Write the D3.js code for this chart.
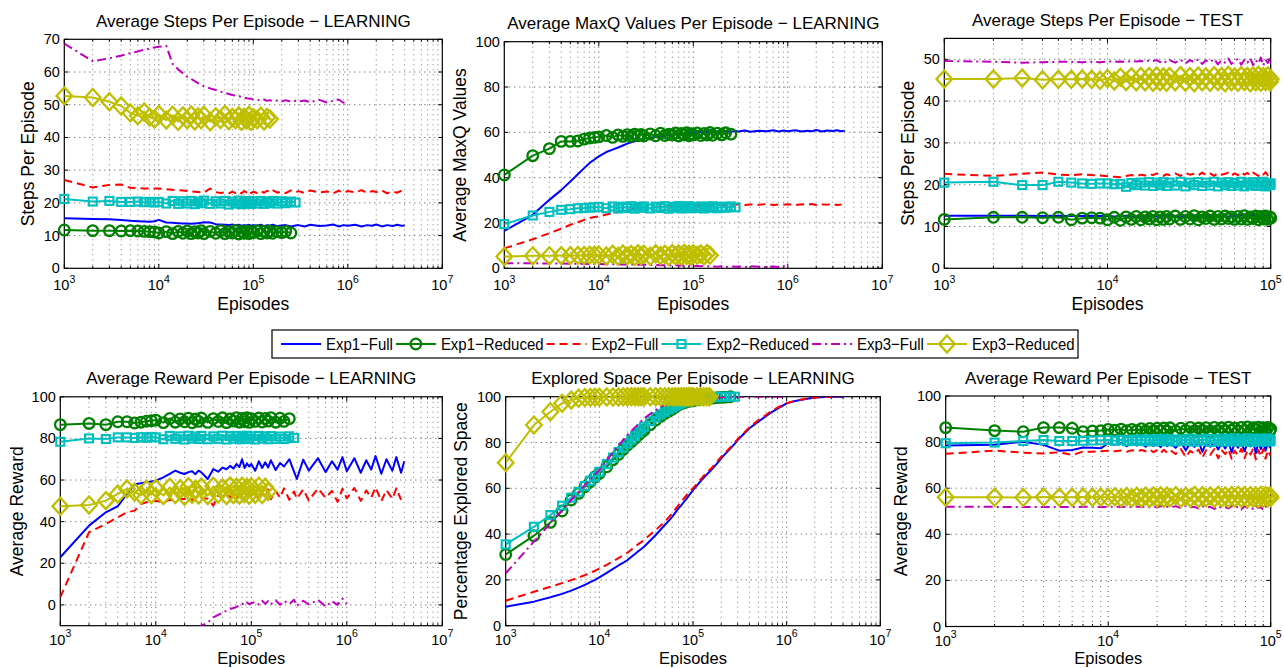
<!DOCTYPE html>
<html><head><meta charset="utf-8">
<script src="https://cdn.jsdelivr.net/npm/d3@7"></script>
<style>body{margin:0;background:#fff;} svg{display:block;font-family:"Liberation Sans",Arial,Helvetica,sans-serif;}</style>
</head><body>
<script>
// ---------------- DATA ----------------
const learnEpisodes = [1000,2000,3000,4000,5000,6000,7000,8000,9000,
 10000,12000,14000,16000,18000,20000,22000,24000,26000,28000,30000,
 35000,40000,45000,50000,55000,60000,65000,70000,75000,80000,85000,90000,95000,100000,
 110000,120000,130000,140000,150000,
 160000,180000,200000,220000,250000,280000,
 300000,350000,400000,500000,600000,700000,800000,900000,1000000,
 1200000,1400000,1600000,1800000,2000000,2300000,2600000,3000000,3300000,3700000,4000000];
const testEpisodes = [1000,2000,3000,4000,5000,6000,7000,8000,9000,
 10000,11000,12000,13000,14000,15000,16000,17000,18000,19000,20000,21000,22000,23000,24000,
 26000,28000,30000,32000,34000,36000,38000,40000,
 42500,45000,47500,50000,52500,55000,57500,60000,
 63000,66000,69000,72000,75000,78000,81000,84000,87000,90000,93000,96000,99000,100000];
const learnXTicks = [1e3,1e4,1e5,1e6,1e7];
const testXTicks = [1e3,1e4,1e5];
const stepsLearnYTicks = [0,10,20,30,40,50,60,70];
const stepsTestYTicks = [0,10,20,30,40,50];
const percentYTicks = [0,20,40,60,80,100];
const seriesNames = ["Exp1−Full","Exp1−Reduced","Exp2−Full","Exp2−Reduced","Exp3−Full","Exp3−Reduced"];

// Average Steps Per Episode - LEARNING
const stepsLearnExp1Full = [15.3,15.1,15.0,14.8,14.5,14.4,14.3,14.2,14.4,
 14.8,14.0,13.9,13.8,13.7,13.7,13.6,13.7,13.8,13.9,14.1,
 14.0,13.5,13.4,13.3,13.2,13.4,13.1,13.3,13.0,13.2,13.1,13.3,13.0,13.2,
 13.0,13.3,12.9,13.2,13.0,
 13.3,12.9,13.1,13.2,12.8,13.1,
 13.2,12.8,13.3,12.9,13.1,13.4,12.8,13.2,13.0,
 13.3,12.8,13.2,13.0,13.4,12.8,13.2,12.9,13.3,13.0,13.1];
const stepsLearnExp1Red = [11.7,11.5,11.5,11.4,11.5,11.4,11.3,11.2,11.1,
 10.8,11.2,10.6,11.3,10.7,11.4,10.6,11.2,10.8,11.5,10.6,
 11.3,10.7,11.5,10.6,11.2,10.8,11.6,10.5,11.3,10.7,11.4,10.6,11.2,10.9,
 11.5,10.6,11.3,10.8,11.4,
 10.7,11.2,10.9,11.3,10.8];
const stepsLearnExp2Full = [27.0,24.7,25.5,25.6,24.6,24.5,24.4,24.4,24.4,
 24.4,24.2,24.0,23.9,23.8,23.6,23.5,23.4,23.3,23.2,23.1,
 24.4,23.3,23.0,23.2,22.9,23.4,23.0,23.5,22.9,23.6,23.2,23.8,23.0,23.4,
 23.0,23.6,23.1,23.7,23.2,
 23.9,23.1,23.5,23.0,23.8,23.2,
 23.6,23.0,23.8,23.2,23.5,22.9,23.7,23.1,23.6,
 23.2,23.9,23.0,23.6,23.3,23.8,22.9,23.5,23.1,23.7];
const stepsLearnExp2Red = [21.2,20.4,20.6,20.3,20.3,20.4,20.2,20.3,20.1,
 20.3,19.8,20.6,19.7,20.5,19.8,20.6,19.6,20.4,19.9,20.7,
 19.7,20.5,19.8,20.6,19.5,20.4,19.8,20.7,19.6,20.3,19.9,20.6,19.7,20.5,
 19.8,20.6,19.7,20.4,19.9,
 20.6,19.8,20.5,19.9,20.4,20.1];
const stepsLearnExp3Full = [68.7,63.3,64.2,65.0,65.8,66.3,66.8,67.2,67.5,
 67.7,68.0,62.5,60.8,59.6,58.5,57.9,57.2,56.6,56.1,55.6,
 55.0,54.5,54.0,53.6,53.3,53.0,52.8,52.6,52.4,52.2,52.0,51.9,51.8,51.6,
 51.5,51.3,51.6,51.2,51.4,
 51.1,51.3,51.0,51.4,50.9,51.2,
 51.0,51.3,50.8,51.5,50.7,51.2,51.6,50.6,51.1];
const stepsLearnExp3Red = [52.7,52.2,50.9,49.6,47.5,46.6,47.8,46.2,45.6,
 47.0,45.3,46.8,44.9,46.6,45.4,46.9,45.0,46.3,45.4,46.8,
 44.8,46.3,45.5,47.0,45.1,46.1,45.4,46.6,44.9,46.2,45.3,46.8,44.9,46.0,
 45.4,46.5,45.0,46.1,45.6];

// Average MaxQ Values Per Episode - LEARNING
const maxqExp1Full = [16.5,23.6,30.2,34.5,38.3,41.5,44.2,46.5,48.0,
 49.4,51.3,52.4,53.3,54.2,55.0,55.6,56.1,56.5,56.9,57.2,
 57.6,58.0,58.3,58.6,58.8,59.0,59.2,59.3,59.4,59.5,59.6,59.7,59.8,59.9,
 60.0,60.1,60.0,60.2,60.1,
 60.3,60.2,60.4,60.5,60.3,60.6,
 60.4,60.8,60.3,60.7,60.5,60.9,60.4,60.8,60.5,
 60.9,60.4,60.7,60.5,61.0,60.4,60.8,60.6,60.9,60.5,60.7];
const maxqExp1Red = [41.2,49.7,52.8,56.0,56.0,56.2,57.0,57.5,57.8,
 58.0,58.6,57.8,58.9,58.2,59.0,58.3,59.2,58.5,59.1,58.4,
 59.3,58.5,59.6,58.6,59.2,58.8,59.7,58.4,59.5,58.9,59.8,58.5,59.4,58.9,
 59.7,58.6,59.5,58.8,59.9,
 58.7,59.6,58.9,59.8,59.2];
const maxqExp2Full = [8.8,12.8,15.5,17.5,19.2,20.3,21.4,22.2,22.6,
 22.9,23.7,24.3,24.8,25.3,25.8,26.1,26.3,26.5,26.7,26.8,
 27.0,27.1,27.2,27.3,27.3,27.4,27.4,27.5,27.5,27.5,27.6,27.6,27.6,27.7,
 27.7,27.8,27.7,27.9,27.8,
 28.0,27.8,28.1,27.9,28.2,28.0,
 28.3,27.9,28.2,28.0,28.4,27.9,28.2,28.1,28.3,
 27.9,28.3,28.0,28.4,27.9,28.2,28.1,28.4,27.9,28.2];
const maxqExp2Red = [19.5,23.3,24.9,25.8,26.1,26.5,26.6,26.8,26.9,
 27.1,26.5,27.3,26.4,27.2,26.6,27.4,26.3,27.1,26.7,27.3,
 26.4,27.2,26.6,27.4,26.3,27.1,26.7,27.5,26.4,27.2,26.6,27.4,26.5,27.1,
 26.6,27.3,26.4,27.2,26.7,
 27.4,26.5,27.2,26.7,27.3,26.9];
const maxqExp3Full = [2.2,2.2,2.1,2.1,2.0,2.0,2.0,1.9,1.9,
 1.9,1.8,1.8,1.8,1.7,1.7,1.7,1.6,1.6,1.6,1.6,
 1.5,1.5,1.4,1.4,1.4,1.3,1.3,1.2,1.2,1.2,1.1,1.1,1.1,1.0,
 1.0,0.9,1.0,0.8,0.9,
 0.8,0.7,0.9,0.6,0.8,0.7,
 0.8,0.6,0.9,0.7,0.5,0.8,0.6,0.9,0.7];
const maxqExp3Red = [5.2,5.5,5.5,5.6,5.6,5.7,5.7,5.8,5.8,
 5.9,5.4,6.2,5.3,6.3,5.5,6.1,5.2,6.4,5.5,6.2,
 5.3,6.4,5.6,6.2,5.2,6.5,5.5,6.3,5.4,6.6,5.6,6.2,5.3,6.4,
 5.7,6.3,5.5,6.5,5.8];

// Average Steps Per Episode - TEST
const stepsTestExp1Full = [12.6,12.6,12.6,12.5,12.6,12.5,12.5,12.6,12.5,
 12.5,12.4,12.5,12.6,12.4,12.5,12.6,12.4,12.5,12.6,12.4,12.5,12.6,12.4,12.5,
 12.6,12.3,12.7,12.4,12.6,12.3,12.7,12.4,
 12.6,12.3,12.7,12.4,12.6,12.3,12.7,12.5,
 12.4,12.7,12.3,12.6,12.4,12.8,12.3,12.6,12.4,12.7,12.3,12.6,12.5,12.6];
const stepsTestExp1Red = [11.7,12.2,12.2,12.1,12.2,11.6,12.0,12.1,12.0,
 11.6,12.2,11.5,12.3,11.7,12.4,11.6,12.3,11.8,12.4,11.6,12.3,11.7,12.4,11.8,
 12.5,11.7,12.4,11.8,12.6,11.6,12.3,11.9,
 12.5,11.7,12.4,11.8,12.5,11.9,12.3,11.7,
 12.4,11.8,12.6,11.7,12.3,11.9,12.5,11.6,12.4,11.8,12.5,11.7,12.3,12.0];
const stepsTestExp2Full = [22.6,22.1,22.6,22.9,22.4,22.3,22.5,22.3,22.2,
 22.0,21.9,21.8,22.1,22.3,22.0,22.4,22.2,22.6,22.3,22.7,22.4,22.1,22.5,22.3,
 22.7,22.1,22.8,22.4,22.6,22.2,22.9,22.3,
 22.7,22.1,22.8,22.4,22.6,22.9,22.2,22.7,
 22.3,23.0,22.4,22.8,22.2,22.9,22.5,22.1,22.8,22.4,23.0,22.3,22.7,22.6];
const stepsTestExp2Red = [20.5,20.7,19.9,19.9,20.7,20.5,20.3,20.2,20.3,
 20.3,20.1,20.2,19.5,20.4,19.9,20.5,19.8,20.6,19.7,20.5,19.9,20.6,19.7,20.5,
 19.8,20.7,19.6,20.5,19.9,20.6,19.7,20.5,
 19.8,20.7,19.6,20.5,19.9,20.6,19.7,20.4,
 19.8,20.7,19.6,20.5,19.9,20.6,19.7,20.5,19.8,20.7,19.6,20.4,19.9,20.3];
const stepsTestExp3Full = [49.6,49.4,49.2,49.3,49.4,49.4,49.3,49.4,49.3,
 49.5,49.4,49.5,49.4,49.6,49.5,49.6,49.5,49.7,49.6,49.8,49.3,49.7,49.2,49.8,
 49.2,49.9,49.0,49.8,49.3,50.0,48.9,49.7,
 49.3,50.1,48.8,49.8,49.2,50.2,48.9,49.6,
 50.1,48.7,49.9,49.2,50.3,48.6,49.8,49.0,50.4,48.5,49.9,49.1,50.2,49.0];
const stepsTestExp3Red = [45.3,45.3,45.5,45.1,45.2,45.2,45.3,45.2,45.0,
 45.4,44.8,45.7,44.7,45.8,44.6,45.9,44.6,45.9,44.5,46.0,44.6,45.8,44.5,45.9,
 44.6,46.1,44.5,45.9,44.4,46.0,44.6,45.8,
 44.5,46.1,44.7,45.9,44.4,46.2,44.6,45.8,
 44.5,46.1,44.7,45.9,44.4,46.0,44.6,46.2,44.5,45.9,44.7,46.0,44.6,45.3];

// Average Reward Per Episode - LEARNING
const rewardLearnExp1Full = [22.9,38.1,44.5,47.4,53.3,58.0,58.5,59.0,59.3,
 59.7,61.3,63.0,64.5,63.5,62.9,63.8,64.2,62.8,64.5,63.7,
 60.5,65.3,64.0,66.0,65.2,66.8,65.5,67.7,66.2,70.0,65.8,68.0,66.5,67.7,
 64.5,69.0,65.8,68.5,66.0,
 69.5,64.8,68.2,66.5,70.0,64.0,
 60.5,69.8,64.5,70.5,63.8,69.0,65.0,71.0,64.2,
 70.5,63.5,69.5,65.0,71.5,63.0,70.0,64.5,71.0,63.5,69.0];
const rewardLearnExp1Red = [86.6,87.2,86.6,88.0,88.0,87.4,87.8,88.3,88.5,
 88.8,87.6,89.6,87.8,89.4,88.0,89.7,87.5,89.3,88.2,89.8,
 87.7,89.5,88.1,89.9,87.6,89.4,88.3,90.0,87.8,89.6,88.0,89.9,87.7,89.5,
 88.2,89.8,87.9,89.6,88.3,
 90.0,87.8,89.7,88.2,89.5];
const rewardLearnExp2Full = [3.7,34.9,38.9,42.1,44.5,45.3,48.5,49.3,49.7,
 50.0,49.3,50.5,50.2,51.0,50.9,51.5,50.4,51.8,50.6,51.5,
 51.0,47.7,52.5,51.5,53.0,51.8,53.5,51.2,53.8,52.0,54.2,51.5,53.6,52.3,
 55.0,50.5,54.5,51.5,55.5,
 50.8,54.8,51.5,56.0,50.5,54.5,
 51.0,55.5,50.2,56.0,51.5,54.8,49.5,55.8,51.2,
 56.2,50.0,55.0,51.5,56.5,49.8,55.2,51.0,56.0,50.5];
const rewardLearnExp2Red = [78.4,80.0,79.7,80.5,80.5,80.2,80.6,80.3,80.7,
 80.5,79.6,81.2,79.8,81.0,79.5,81.3,79.9,80.9,79.7,81.2,
 79.6,81.0,79.8,81.3,79.5,81.1,79.9,81.2,79.6,80.8,79.7,81.3,79.8,81.0,
 79.5,81.2,79.9,81.0,79.6,
 81.1,79.8,80.9,79.7,81.0,80.2];
const rewardLearnExp3Full = [-60,-48,-42,-38,-35,-33,-31,-29.5,-28,
 -26.5,-24,-22,-20,-18,-16.5,-15,-13.5,-12,-11,-10,
 -8.5,-6.0,-4.8,-3.8,-2.8,-2.0,-1.5,-1.0,-0.2,0.5,0.0,1.2,0.3,0.8,
 1.5,0.2,2.0,0.5,1.8,
 0.3,2.2,0.0,1.9,0.4,2.5,
 -0.5,2.0,0.2,2.4,-0.8,1.8,0.0,3.0,0.5];
const rewardLearnExp3Red = [47.4,48.0,50.1,53.3,55.7,54.2,52.8,55.5,53.0,
 56.0,52.5,56.5,53.0,55.8,52.2,56.8,53.2,55.5,52.8,56.6,
 52.5,57.0,53.3,56.2,52.6,57.2,53.0,56.5,52.8,57.0,53.5,56.4,52.7,56.8,
 53.2,57.0,53.0,56.5,54.5];

// Explored Space Per Episode - LEARNING
const exploredExp1Full = [8.3,10.5,12.4,13.9,15.3,16.6,17.8,19.0,20.0,
 21.1,23.1,24.8,26.3,27.5,28.7,30.1,31.3,32.5,33.5,34.5,
 37.2,39.6,41.9,44.0,45.8,47.5,49.5,51.2,52.6,54.1,55.4,56.8,58.0,59.2,
 61.2,63.0,64.6,66.0,67.2,
 68.4,70.8,73.1,74.9,77.3,79.5,
 81.1,83.8,86.2,89.1,91.5,93.4,94.8,96.0,97.1,
 98.0,98.6,99.0,99.3,99.6,99.8,99.9,100,100,100,100];
const exploredExp1Red = [31.1,39.3,45.1,50.1,54.9,57.8,60.7,62.9,65.0,
 66.5,69.4,72.5,74.8,77.0,78.9,80.4,81.8,83.2,84.4,85.4,
 87.8,89.8,91.4,92.7,93.7,94.6,95.5,96.4,96.9,97.4,97.7,98.0,98.2,98.3,
 98.6,98.9,99.1,99.2,99.3,
 99.4,99.6,99.7,99.8,100];
const exploredExp2Full = [10.9,14.8,17.0,18.6,19.9,21.0,22.1,23.1,24.0,
 25.0,26.6,28.2,29.5,30.8,31.9,33.3,34.5,35.6,36.5,37.4,
 39.8,41.8,43.7,45.4,47.3,49.0,50.9,52.7,54.2,55.6,56.9,58.0,59.0,60.0,
 62.0,63.8,65.4,66.8,68.0,
 69.1,71.5,73.8,75.5,77.8,80.0,
 81.5,84.2,86.6,89.8,92.0,94.0,95.2,96.3,97.2,
 98.1,98.7,99.1,99.4,99.6,99.8,99.9,100,100,100];
const exploredExp2Red = [35.5,43.2,48.3,52.4,55.9,58.5,61.0,63.3,65.0,
 67.2,70.6,73.4,75.8,77.8,79.6,81.3,82.8,84.3,85.7,86.9,
 89.3,91.0,92.3,93.4,94.4,95.2,96.0,96.6,97.2,97.6,97.9,98.2,98.4,98.5,
 98.8,99.0,99.2,99.4,99.6,
 99.7,99.8,99.9,100,100,100];
const exploredExp3Full = [22.9,36.7,44.7,50.5,54.9,58.4,61.4,63.8,66.0,
 68.0,72.2,75.8,78.7,81.1,83.3,85.0,86.6,87.9,89.3,90.5,
 92.5,94.2,95.4,96.4,97.0,97.5,97.9,98.3,98.6,98.8,99.0,99.1,99.2,99.3,
 99.4,99.5,99.5,99.6,99.6,
 99.7,99.7,99.8,99.8,99.9,99.9,
 100,100,100,100,100,100,100,100,100];
const exploredExp3Red = [71.2,87.6,93.4,97.1,98.5,99.3,99.6,99.7,99.8,
 99.8,99.9,99.9,99.9,100,100,100,100,100,100,100,
 100,100,100,100,100,100,100,100,100,100,100,100,100,100,
 100,100,100,100,100];

// Average Reward Per Episode - TEST
const rewardTestExp1Full = [78.5,78.8,80.2,78.8,76.3,76.6,77.7,77.5,77.3,
 79.5,78.8,79.6,78.2,79.8,78.5,79.4,78.0,79.9,78.3,79.5,77.8,79.9,78.2,79.7,
 77.5,80.1,76.5,79.6,77.9,80.2,75.8,79.8,
 78.0,80.0,76.8,79.5,77.2,80.3,75.5,79.8,
 77.6,80.2,76.0,79.7,78.1,80.4,75.2,79.9,77.0,80.1,76.3,79.6,77.8,79.5];
const rewardTestExp1Red = [86.3,85.0,84.5,86.3,86.3,86.0,84.5,84.8,85.0,
 85.5,85.2,85.6,84.9,85.5,85.0,85.8,84.8,85.9,84.9,86.0,85.0,86.1,84.8,86.2,
 84.8,86.0,85.1,86.4,84.9,86.1,85.2,86.3,
 84.8,86.4,85.1,86.2,84.9,86.5,85.2,86.1,
 84.8,86.4,85.0,86.6,84.9,86.2,85.3,86.5,84.8,86.3,85.1,86.4,84.9,85.7];
const rewardTestExp2Full = [74.9,76.3,75.4,75.1,75.6,74.4,75.9,75.8,76.0,
 76.3,76.0,76.4,75.8,76.5,75.9,76.6,76.0,76.8,75.6,76.5,75.2,76.7,75.5,76.6,
 74.8,77.0,73.5,76.2,74.9,76.8,73.2,76.5,
 74.5,77.0,73.0,76.4,74.8,76.9,72.8,76.3,
 74.2,77.1,73.0,76.5,74.6,77.2,72.5,76.6,73.8,77.0,72.8,76.4,74.5,75.5];
const rewardTestExp2Red = [79.5,79.8,80.5,80.9,80.5,80.5,80.6,80.7,80.8,
 80.9,80.6,81.0,80.4,81.1,80.5,81.2,80.4,81.2,80.3,81.3,80.5,81.4,80.3,81.2,
 80.3,81.2,80.5,81.5,80.2,81.1,80.6,81.4,
 80.1,81.3,80.4,81.5,80.2,81.4,80.5,81.6,
 80.2,81.3,80.4,81.6,80.1,81.4,80.5,81.5,80.2,81.3,80.4,81.6,80.3,81.0];
const rewardTestExp3Full = [51.9,51.9,51.8,51.8,51.9,51.8,51.9,51.9,51.8,
 51.9,52.0,51.8,52.0,51.7,52.1,51.8,52.2,51.7,52.1,51.6,52.3,51.8,52.0,51.7,
 52.2,51.4,52.3,51.7,51.9,51.2,52.2,51.6,
 51.9,51.0,52.2,51.5,51.8,51.2,52.3,51.4,
 52.0,50.8,52.2,51.5,51.9,51.0,52.3,51.4,51.8,50.6,52.1,51.3,51.8,51.6];
const rewardTestExp3Red = [56.1,56.1,56.0,56.2,56.1,56.1,56.2,56.1,56.2,
 56.0,56.3,55.8,56.4,55.7,56.5,55.7,56.6,55.6,56.6,55.7,56.7,55.6,56.6,55.8,
 56.8,55.6,56.5,55.7,56.9,55.5,56.7,55.8,
 56.6,55.6,56.9,55.7,56.6,55.5,56.8,55.7,
 56.9,55.6,56.7,55.5,56.8,55.7,56.6,55.5,56.9,55.6,56.7,55.8,56.6,56.0];

// ---------------- DRAWING ----------------
const W = 1284, H = 668;
const svg = d3.select("body").append("svg").attr("width", W).attr("height", H);
svg.append("rect").attr("width", W).attr("height", H).attr("fill", "#fff");

const styles = [
  {color:"#0000ff", dash:null, marker:null},
  {color:"#008000", dash:null, marker:"circle"},
  {color:"#ff0000", dash:"8,5", marker:null},
  {color:"#00bfbf", dash:null, marker:"square"},
  {color:"#bf00bf", dash:"9,4,2,4", marker:null},
  {color:"#bfbf00", dash:null, marker:"diamond"}
];

const panels = [
  {title:"Average Steps Per Episode − LEARNING", ylabel:"Steps Per Episode", yDomain:[0,70], yTicks:stepsLearnYTicks,
   xTicks:learnXTicks, episodes:learnEpisodes,
   series:[stepsLearnExp1Full,stepsLearnExp1Red,stepsLearnExp2Full,stepsLearnExp2Red,stepsLearnExp3Full,stepsLearnExp3Red],
   rect:{x0:64.3,x1:442.3,y0:39.3,y1:268.3}, ylabOff:30.8, tickOff:22, xlabOff:41.5, xlabSize:17.5},
  {title:"Average MaxQ Values Per Episode − LEARNING", ylabel:"Average MaxQ Values", yDomain:[0,100], yTicks:percentYTicks,
   xTicks:learnXTicks, episodes:learnEpisodes,
   series:[maxqExp1Full,maxqExp1Red,maxqExp2Full,maxqExp2Red,maxqExp3Full,maxqExp3Red],
   rect:{x0:504.3,x1:882.3,y0:41.7,y1:268.3}, ylabOff:38.3, tickOff:22, xlabOff:41.5, xlabSize:17.5},
  {title:"Average Steps Per Episode − TEST", ylabel:"Steps Per Episode", yDomain:[0,55], yTicks:stepsTestYTicks,
   xTicks:testXTicks, episodes:testEpisodes,
   series:[stepsTestExp1Full,stepsTestExp1Red,stepsTestExp2Full,stepsTestExp2Red,stepsTestExp3Full,stepsTestExp3Red],
   rect:{x0:944.3,x1:1270.7,y0:38.4,y1:268.3}, ylabOff:30, tickOff:22, xlabOff:41.5, xlabSize:17.5},
  {title:"Average Reward Per Episode − LEARNING", ylabel:"Average Reward", yDomain:[-10,100], yTicks:percentYTicks,
   xTicks:learnXTicks, episodes:learnEpisodes,
   series:[rewardLearnExp1Full,rewardLearnExp1Red,rewardLearnExp2Full,rewardLearnExp2Red,rewardLearnExp3Full,rewardLearnExp3Red],
   rect:{x0:60.3,x1:442.3,y0:396.8,y1:625.7}, ylabOff:37.6, tickOff:19, xlabOff:38.3, xlabSize:16.5},
  {title:"Explored Space Per Episode − LEARNING", ylabel:"Percentage Explored Space", yDomain:[0,100], yTicks:percentYTicks,
   xTicks:learnXTicks, episodes:learnEpisodes,
   series:[exploredExp1Full,exploredExp1Red,exploredExp2Full,exploredExp2Red,exploredExp3Full,exploredExp3Red],
   rect:{x0:505.7,x1:880.3,y0:396.7,y1:625.7}, ylabOff:38.4, tickOff:19, xlabOff:38.3, xlabSize:16.5},
  {title:"Average Reward Per Episode − TEST", ylabel:"Average Reward", yDomain:[0,100], yTicks:percentYTicks,
   xTicks:testXTicks, episodes:testEpisodes,
   series:[rewardTestExp1Full,rewardTestExp1Red,rewardTestExp2Full,rewardTestExp2Red,rewardTestExp3Full,rewardTestExp3Red],
   rect:{x0:945.7,x1:1270.7,y0:396.0,y1:626.5}, ylabOff:38.4, tickOff:19, xlabOff:37.8, xlabSize:16.5}
];

function drawMarker(g, type, x, y, color) {
  if (type === "circle") {
    g.append("circle").attr("cx", x).attr("cy", y).attr("r", 5.3)
      .attr("fill", "none").attr("stroke", color).attr("stroke-width", 2.3);
  } else if (type === "square") {
    g.append("rect").attr("x", x - 4).attr("y", y - 4).attr("width", 8).attr("height", 8)
      .attr("fill", "none").attr("stroke", color).attr("stroke-width", 2.1);
  } else if (type === "diamond") {
    g.append("path").attr("d", `M${x},${y-8.5}L${x+7.8},${y}L${x},${y+8.5}L${x-7.8},${y}Z`)
      .attr("fill", "none").attr("stroke", color).attr("stroke-width", 2.3);
  }
}

panels.forEach((p, k) => {
  const r = p.rect;
  const g = svg.append("g");
  const xDomain = [p.xTicks[0], p.xTicks[p.xTicks.length - 1]];
  const xs = d3.scaleLog().domain(xDomain).range([r.x0, r.x1]);
  const ys = d3.scaleLinear().domain(p.yDomain).range([r.y1, r.y0]);

  svg.append("clipPath").attr("id", "clip" + k).append("rect")
    .attr("x", r.x0).attr("y", r.y0).attr("width", r.x1 - r.x0).attr("height", r.y1 - r.y0);

  // grid
  const allX = xs.ticks();
  const isMajor = v => Math.abs(Math.log10(v) - Math.round(Math.log10(v))) < 1e-9;
  allX.forEach(v => {
    if (v <= xDomain[0] || v >= xDomain[1]) return;
    g.append("line").attr("x1", xs(v)).attr("x2", xs(v)).attr("y1", r.y0).attr("y2", r.y1)
      .attr("stroke", "#222").attr("stroke-opacity", isMajor(v) ? 0.8 : 0.6)
      .attr("stroke-width", 1).attr("stroke-dasharray", "1,4");
  });
  p.yTicks.forEach(v => {
    if (v === p.yDomain[0] || v === p.yDomain[1]) return;
    g.append("line").attr("x1", r.x0).attr("x2", r.x1).attr("y1", ys(v)).attr("y2", ys(v))
      .attr("stroke", "#222").attr("stroke-opacity", 0.8)
      .attr("stroke-width", 1).attr("stroke-dasharray", "1,4");
  });

  // box
  g.append("rect").attr("x", r.x0).attr("y", r.y0).attr("width", r.x1 - r.x0).attr("height", r.y1 - r.y0)
    .attr("fill", "none").attr("stroke", "#000").attr("stroke-width", 1.2);

  // ticks
  allX.forEach(v => {
    const L = isMajor(v) ? 4.5 : 2.5;
    const x = xs(v);
    g.append("line").attr("x1", x).attr("x2", x).attr("y1", r.y1).attr("y2", r.y1 - L).attr("stroke", "#000");
    g.append("line").attr("x1", x).attr("x2", x).attr("y1", r.y0).attr("y2", r.y0 + L).attr("stroke", "#000");
  });
  p.yTicks.forEach(v => {
    const y = ys(v);
    g.append("line").attr("x1", r.x0).attr("x2", r.x0 + 4).attr("y1", y).attr("y2", y).attr("stroke", "#000");
    g.append("line").attr("x1", r.x1).attr("x2", r.x1 - 4).attr("y1", y).attr("y2", y).attr("stroke", "#000");
  });

  // tick labels
  p.xTicks.forEach(v => {
    const t = g.append("text").attr("x", xs(v)).attr("y", r.y1 + p.tickOff)
      .attr("text-anchor", "middle").attr("font-size", 14.5).attr("fill", "#000");
    t.append("tspan").text("10");
    t.append("tspan").attr("dy", -7.4).attr("font-size", 10.5).text(String(Math.round(Math.log10(v))));
  });
  p.yTicks.forEach(v => {
    g.append("text").attr("x", r.x0 - 4.5).attr("y", ys(v) + 5)
      .attr("text-anchor", "end").attr("font-size", 14.5).attr("fill", "#000").text(v);
  });

  // labels
  g.append("text").attr("x", (r.x0 + r.x1) / 2).attr("y", r.y0 - 12.5)
    .attr("text-anchor", "middle").attr("font-size", 17).attr("fill", "#000").text(p.title);
  g.append("text").attr("x", (r.x0 + r.x1) / 2).attr("y", r.y1 + p.xlabOff)
    .attr("text-anchor", "middle").attr("font-size", p.xlabSize).attr("fill", "#000").text("Episodes");
  g.append("text").attr("transform", `translate(${r.x0 - p.ylabOff},${(r.y0 + r.y1) / 2}) rotate(-90)`)
    .attr("text-anchor", "middle").attr("font-size", 17.5).attr("fill", "#000").text(p.ylabel);

  // data
  const line = d3.line().x(d => xs(d[0])).y(d => ys(d[1]));
  p.series.forEach((vals, i) => {
    const st = styles[i];
    const pts = vals.map((v, j) => [p.episodes[j], v]);
    const dg = g.append("g");
    dg.append("path").attr("d", line(pts)).attr("clip-path", `url(#clip${k})`)
      .attr("fill", "none").attr("stroke", st.color).attr("stroke-width", 2)
      .attr("stroke-linejoin", "round")
      .attr("stroke-dasharray", st.dash);
    if (st.marker) {
      pts.filter(d => d[1] >= p.yDomain[0] && d[1] <= p.yDomain[1])
        .forEach(d => drawMarker(dg, st.marker, xs(d[0]), ys(d[1]), st.color));
    }
  });
});

// legend
const lg = svg.append("g");
lg.append("rect").attr("x", 272).attr("y", 330).attr("width", 806).attr("height", 28)
  .attr("fill", "#fff").attr("stroke", "#000").attr("stroke-width", 1.2);
let lx = 281;
const ly = 344;
seriesNames.forEach((name, i) => {
  const st = styles[i];
  lg.append("line").attr("x1", lx).attr("x2", lx + 40).attr("y1", ly).attr("y2", ly)
    .attr("stroke", st.color).attr("stroke-width", 2).attr("stroke-dasharray", st.dash);
  if (st.marker) drawMarker(lg, st.marker, lx + 20, ly, st.color);
  const t = lg.append("text").attr("transform", `translate(${lx + 45},${ly + 6}) scale(0.88,1)`)
    .attr("font-size", 17).attr("fill", "#000").text(name);
  const w = t.node().getComputedTextLength() * 0.88;
  lx = lx + 45 + w + 3;
});
</script>
</body></html>
